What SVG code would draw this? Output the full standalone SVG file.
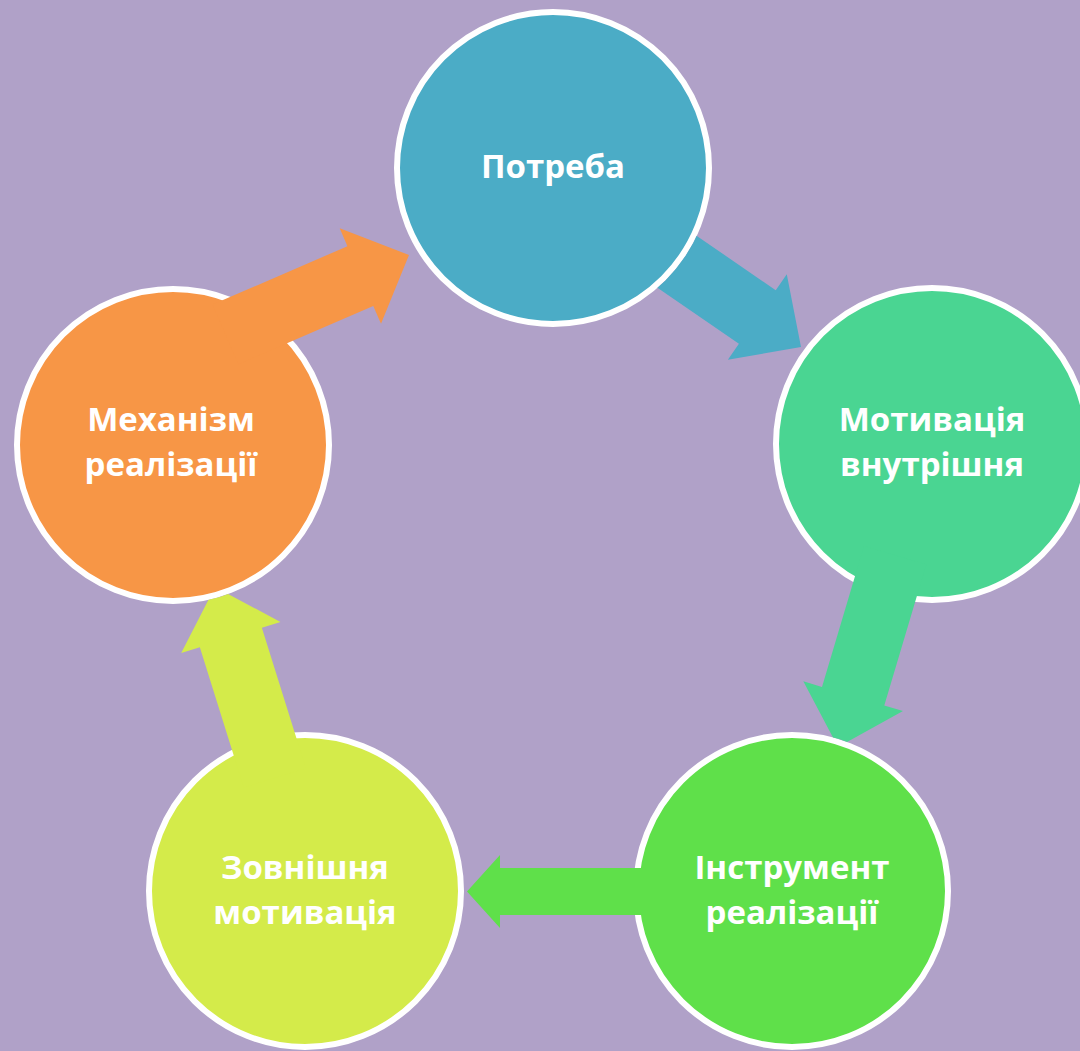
<svg xmlns="http://www.w3.org/2000/svg" width="1080" height="1051" viewBox="0 0 1080 1051">
  <style>
    .node { stroke: #FFFFFF; stroke-width: 6; }
    .lbl { font-family: "Open Sans", "Noto Sans", "DejaVu Sans", sans-serif; font-weight: 700; font-size: 33px; fill: #FFFFFF; text-anchor: middle; }
  </style>
  <defs>
    <polygon id="arrowBig" points="0,0 -53,-52 -53,-32.5 -200,-32.5 -200,32.5 -53,32.5 -53,52"/>
    <polygon id="arrowSmall" points="0,0 -33,-36.5 -33,-23.5 -176,-23.5 -176,23.5 -33,23.5 -33,36.5"/>
    <mask id="m1" maskUnits="userSpaceOnUse" x="0" y="0" width="1080" height="1051">
      <rect x="0" y="0" width="1080" height="1051" fill="#fff"/>
      <circle cx="553" cy="168" r="159" fill="#000"/>
      <circle cx="932" cy="444" r="159" fill="#000"/>
    </mask>
    <mask id="m2" maskUnits="userSpaceOnUse" x="0" y="0" width="1080" height="1051">
      <rect x="0" y="0" width="1080" height="1051" fill="#fff"/>
      <circle cx="792" cy="891" r="159" fill="#000"/>
    </mask>
    <mask id="m3" maskUnits="userSpaceOnUse" x="0" y="0" width="1080" height="1051">
      <rect x="0" y="0" width="1080" height="1051" fill="#fff"/>
      <circle cx="305" cy="891" r="159" fill="#000"/>
    </mask>
    <mask id="m4" maskUnits="userSpaceOnUse" x="0" y="0" width="1080" height="1051">
      <rect x="0" y="0" width="1080" height="1051" fill="#fff"/>
      <circle cx="173" cy="445" r="159" fill="#000"/>
    </mask>
    <mask id="m5" maskUnits="userSpaceOnUse" x="0" y="0" width="1080" height="1051">
      <rect x="0" y="0" width="1080" height="1051" fill="#fff"/>
      <circle cx="553" cy="168" r="159" fill="#000"/>
    </mask>
  </defs>

  <rect x="0" y="0" width="1080" height="1051" fill="#B0A1C8"/>

  <g id="node-potreba">
    <circle class="node" cx="553" cy="168" r="156" fill="#4BACC6"/>
    <text class="lbl" x="553" y="178">Потреба</text>
  </g>
  <g id="node-motyvatsiia-vnutrishnia">
    <circle class="node" cx="932" cy="444" r="156" fill="#4AD592"/>
    <text class="lbl" x="932" y="431">Мотивація</text>
    <text class="lbl" x="932" y="476">внутрішня</text>
  </g>
  <g id="node-instrument-realizatsii">
    <circle class="node" cx="792" cy="891" r="156" fill="#5FE04A"/>
    <text class="lbl" x="792" y="879">Інструмент</text>
    <text class="lbl" x="792" y="924">реалізації</text>
  </g>
  <g id="node-zovnishnia-motyvatsiia">
    <circle class="node" cx="305" cy="891" r="156" fill="#D4EB4A"/>
    <text class="lbl" x="305" y="879">Зовнішня</text>
    <text class="lbl" x="305" y="924">мотивація</text>
  </g>
  <g id="node-mekhanizm-realizatsii">
    <circle class="node" cx="173" cy="445" r="156" fill="#F79646"/>
    <text class="lbl" x="171" y="431">Механізм</text>
    <text class="lbl" x="171" y="476">реалізації</text>
  </g>

  <g id="connectors">
    <g mask="url(#m1)"><use href="#arrowBig" fill="#4BACC6" transform="translate(801,347) rotate(34.5)"/></g>
    <g mask="url(#m2)"><use href="#arrowBig" fill="#4AD592" transform="translate(838,747) rotate(106.6)"/></g>
    <g mask="url(#m3)"><use href="#arrowSmall" fill="#5FE04A" transform="translate(467,891.5) rotate(180)"/></g>
    <g mask="url(#m4)"><use href="#arrowBig" fill="#D4EB4A" transform="translate(215,587) rotate(-107.4)"/></g>
    <g mask="url(#m5)"><use href="#arrowBig" fill="#F79646" transform="translate(409,255) rotate(-23.4)"/></g>
  </g>
</svg>
